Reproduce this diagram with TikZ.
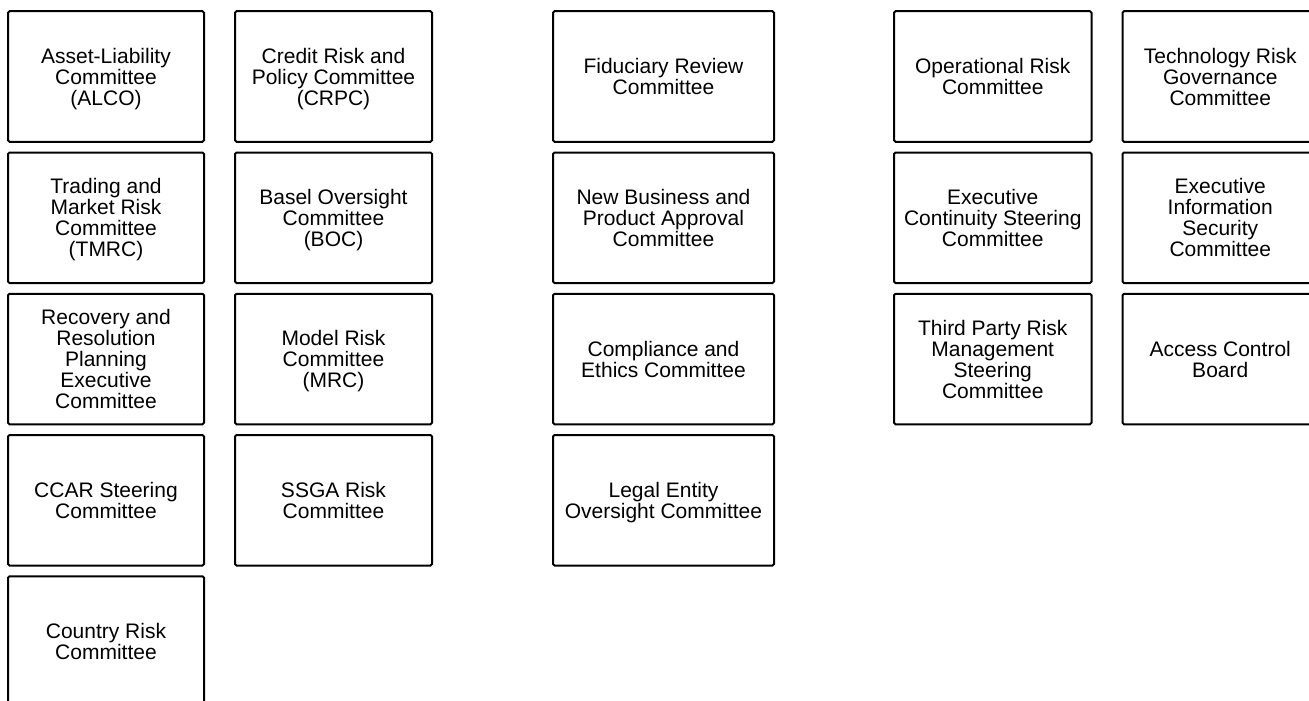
\documentclass[tikz,border=0pt]{standalone}
\usepackage{fontspec}
\setmainfont{Liberation Sans}
\begin{document}
\begin{tikzpicture}[x=1pt,y=-1pt,
  cbox/.style={draw=black, line width=2pt, rounded corners=1.5pt, fill=white,
    inner sep=0pt, outer sep=0pt, align=center, text depth=0pt,
    font=\fontsize{21pt}{21pt}\selectfont}]
\useasboundingbox (0,0) rectangle (1309,701);
% column centres and widths
\def\myXa{106}\def\myWa{196}
\def\myXb{333.5}\def\myWb{197}
\def\myXc{663.5}\def\myWc{221}
\def\myXd{992.75}\def\myWd{197.5}
\def\myXe{1220.25}\def\myWe{195.5}
\def\myH{130.5}
% row centres
\def\myYa{76.5}\def\myYb{217.75}\def\myYc{359}\def\myYd{500.25}\def\myYe{641.5}
\tikzset{c1/.style={cbox, minimum width=\myWa pt, minimum height=\myH pt},
         c2/.style={cbox, minimum width=\myWb pt, minimum height=\myH pt},
         c3/.style={cbox, minimum width=\myWc pt, minimum height=\myH pt},
         c4/.style={cbox, minimum width=\myWd pt, minimum height=\myH pt},
         c5/.style={cbox, minimum width=\myWe pt, minimum height=\myH pt}}
% column 1
\node[c1] (alco) at (\myXa,\myYa) {Asset-Liability\\Committee\\(ALCO)};
\node[c1] (tmrc) at (\myXa,\myYb) {Trading and\\Market Risk\\Committee\\(TMRC)};
\node[c1] (rrp) at (\myXa,\myYc) {Recovery and\\Resolution\\Planning\\Executive\\Committee};
\node[c1] (ccar) at (\myXa,\myYd) {CCAR Steering\\Committee};
\node[c1] (country) at (\myXa,\myYe) {Country Risk\\Committee};
% column 2
\node[c2] (crpc) at (\myXb,\myYa) {Credit Risk and\\Policy Committee\\(CRPC)};
\node[c2] (boc) at (\myXb,\myYb) {Basel Oversight\\Committee\\(BOC)};
\node[c2] (mrc) at (\myXb,\myYc) {Model Risk\\Committee\\(MRC)};
\node[c2] (ssga) at (\myXb,\myYd) {SSGA Risk\\Committee};
% column 3
\node[c3] (fid) at (\myXc,\myYa) {Fiduciary Review\\Committee};
\node[c3] (nbpa) at (\myXc,\myYb) {New Business and\\Product Approval\\Committee};
\node[c3] (comp) at (\myXc,\myYc) {Compliance and\\Ethics Committee};
\node[c3] (legal) at (\myXc,\myYd) {Legal Entity\\Oversight Committee};
% column 4
\node[c4] (oprisk) at (\myXd,\myYa) {Operational Risk\\Committee};
\node[c4] (ecsc) at (\myXd,\myYb) {Executive\\Continuity Steering\\Committee};
\node[c4] (tprm) at (\myXd,\myYc) {Third Party Risk\\Management\\Steering\\Committee};
% column 5
\node[c5] (tech) at (\myXe,\myYa) {Technology Risk\\Governance\\Committee};
\node[c5] (eisc) at (\myXe,\myYb) {Executive\\Information\\Security\\Committee};
\node[c5] (acb) at (\myXe,\myYc) {Access Control\\Board};
\end{tikzpicture}
\end{document}
